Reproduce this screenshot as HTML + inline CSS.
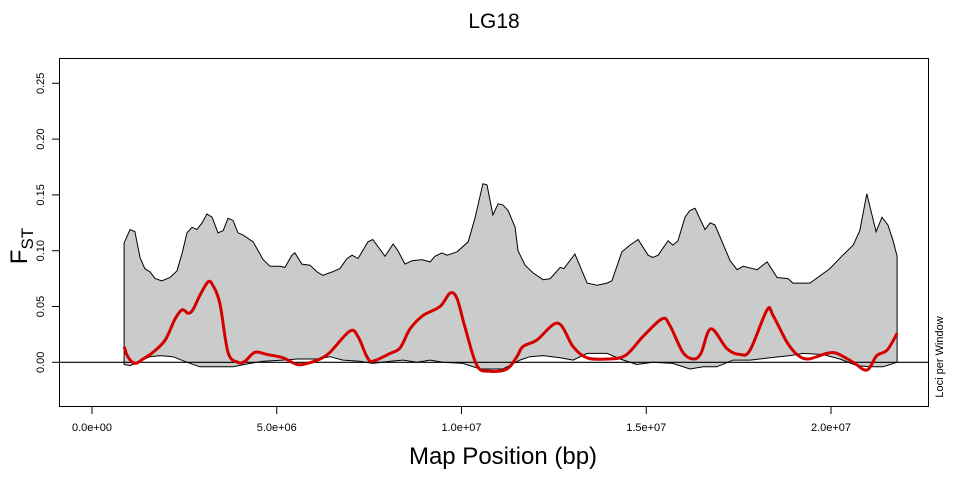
<!DOCTYPE html>
<html><head><meta charset="utf-8"><style>
body{margin:0;background:#fff;}
svg{display:block;font-family:"Liberation Sans",sans-serif;}
</style></head><body>
<svg id="chart" width="960" height="480">
<text x="494" y="28" font-size="21" text-anchor="middle">LG18</text>
<g id="plot"></g>
<rect x="59.5" y="58.5" width="869" height="348" fill="none" stroke="#000" stroke-width="1"/>
<text x="503" y="464" font-size="24" text-anchor="middle">Map Position (bp)</text>
<text transform="translate(27,246) rotate(-90)" font-size="24" text-anchor="middle">F<tspan font-size="17" dy="6">ST</tspan></text>
<text transform="translate(943,357) rotate(-90)" font-size="11" text-anchor="middle">Loci per Window</text>
</svg>
<script>
const xTicks=[0,5e6,1e7,1.5e7,2e7];
const xTickLabels=["0.0e+00","5.0e+06","1.0e+07","1.5e+07","2.0e+07"];
const yTicks=[0,0.05,0.10,0.15,0.20,0.25];
const yTickLabels=["0.00","0.05","0.10","0.15","0.20","0.25"];
const upperPos=[0.87,1.03,1.16,1.30,1.43,1.57,1.71,1.89,2.11,2.30,2.44,2.57,2.71,2.84,2.98,3.11,3.25,3.41,3.55,3.68,3.82,3.95,4.09,4.36,4.63,4.82,5.09,5.22,5.41,5.49,5.68,5.90,6.09,6.25,6.50,6.71,6.90,7.04,7.20,7.47,7.60,7.93,8.15,8.28,8.47,8.66,8.93,9.15,9.28,9.47,9.61,9.88,10.18,10.37,10.58,10.69,10.85,10.99,11.12,11.26,11.45,11.53,11.72,11.94,12.21,12.40,12.67,12.77,13.07,13.40,13.67,13.94,14.07,14.34,14.56,14.78,15.05,15.18,15.32,15.59,15.72,15.86,16.05,16.18,16.32,16.59,16.73,16.86,17.27,17.46,17.62,18.00,18.27,18.54,18.84,18.97,19.43,19.97,20.32,20.60,20.78,20.97,21.22,21.38,21.54,21.68,21.79];
const upperFst=[.107,.119,.117,.094,.084,.081,.075,.073,.076,.082,.098,.116,.121,.119,.125,.133,.130,.116,.118,.129,.127,.116,.114,.108,.092,.086,.086,.085,.096,.098,.088,.087,.081,.078,.081,.084,.093,.096,.093,.108,.110,.095,.106,.100,.088,.091,.092,.090,.095,.098,.096,.099,.108,.130,.160,.159,.132,.142,.141,.136,.121,.100,.087,.080,.074,.075,.085,.084,.097,.071,.069,.071,.073,.099,.105,.110,.096,.094,.096,.109,.105,.109,.130,.136,.138,.119,.125,.123,.091,.083,.086,.083,.090,.076,.075,.071,.071,.084,.096,.105,.118,.151,.117,.130,.123,.109,.095];
const lowerPos=[0.87,1.03,1.30,1.57,1.84,2.19,2.57,2.92,3.27,3.55,3.82,4.28,4.63,5.17,5.55,6.09,6.44,6.79,7.25,7.60,8.07,8.42,8.80,9.15,9.50,10.04,10.50,11.12,11.58,11.85,12.21,12.67,13.02,13.40,13.94,14.29,14.75,15.18,15.72,16.18,16.54,16.91,17.35,17.81,18.35,18.89,19.24,19.78,20.24,20.70,21.06,21.41,21.79];
const lowerFst=[-.002,-.003,.001,.005,.006,.005,.000,-.004,-.004,-.004,-.004,-.001,.001,.002,.003,.003,.005,.002,.001,-.001,.001,.002,.000,.002,.000,-.001,-.006,-.006,.002,.005,.006,.004,.002,.008,.008,.003,-.002,.000,-.001,-.006,-.004,-.004,.002,.002,.004,.006,.008,.007,.003,-.003,-.004,-.004,.000];
const meanPos=[0.87,0.97,1.16,1.38,1.65,1.98,2.25,2.44,2.60,2.73,2.92,3.14,3.27,3.46,3.68,3.95,4.14,4.41,4.74,5.17,5.55,5.82,6.17,6.44,6.98,7.20,7.44,7.60,8.07,8.34,8.61,8.96,9.42,9.69,9.88,10.09,10.42,10.77,11.23,11.50,11.66,12.04,12.61,13.02,13.40,13.94,14.43,14.91,15.43,15.64,15.99,16.27,16.48,16.75,17.19,17.54,17.81,18.27,18.43,18.81,19.08,19.38,19.89,20.16,20.60,20.97,21.24,21.52,21.79];
const meanFst=[.014,.005,-.001,.003,.009,.020,.039,.047,.044,.047,.060,.072,.069,.053,.009,.000,.001,.009,.007,.004,-.002,-.001,.003,.009,.028,.023,.005,.001,.008,.013,.030,.042,.050,.062,.057,.032,-.003,-.008,-.006,.005,.014,.020,.035,.014,.004,.003,.006,.023,.039,.033,.009,.003,.008,.030,.012,.007,.011,.047,.042,.018,.007,.003,.008,.008,.000,-.007,.006,.011,.026];

const NS="http://www.w3.org/2000/svg";
const svg=document.getElementById('chart');
const plot=document.getElementById('plot');
function xs(bp){return 92+bp/1e7*369.5;}
function ys(v){return 362.3-v*1116;}
function mk(tag,attrs,parent){const e=document.createElementNS(NS,tag);for(const k in attrs)e.setAttribute(k,attrs[k]);(parent||svg).appendChild(e);return e;}
function smooth(pts){
  let s="M"+pts[0][0].toFixed(1)+","+pts[0][1].toFixed(1);
  for(let i=0;i<pts.length-1;i++){
    const p0=pts[Math.max(0,i-1)],p1=pts[i],p2=pts[i+1],p3=pts[Math.min(pts.length-1,i+2)];
    const c1x=p1[0]+(p2[0]-p0[0])/6,c1y=p1[1]+(p2[1]-p0[1])/6;
    const c2x=p2[0]-(p3[0]-p1[0])/6,c2y=p2[1]-(p3[1]-p1[1])/6;
    s+="C"+c1x.toFixed(1)+","+c1y.toFixed(1)+" "+c2x.toFixed(1)+","+c2y.toFixed(1)+" "+p2[0].toFixed(1)+","+p2[1].toFixed(1);
  }
  return s;
}

let d="";
upperPos.forEach((p,i)=>{d+=(i?"L":"M")+xs(p*1e6).toFixed(1)+","+ys(upperFst[i]).toFixed(1);});
for(let i=lowerPos.length-1;i>=0;i--){d+="L"+xs(lowerPos[i]*1e6).toFixed(1)+","+ys(lowerFst[i]).toFixed(1);}
d+="Z";
const band=mk('path',{d:d,fill:"#cacccb",stroke:"#000","stroke-width":"1"},plot);



const zero=mk('line',{x1:59.5,x2:928.5,y1:ys(0),y2:ys(0),stroke:"#000","stroke-width":"1.2"},plot);



const mpts=meanPos.map((p,i)=>[xs(p*1e6),ys(meanFst[i])]);
const mean=mk('path',{d:smooth(mpts),fill:"none",stroke:"#d40000","stroke-width":"3","stroke-linejoin":"round"},plot);



xTicks.forEach((t,i)=>{
  const x=xs(t);
  const tk=mk('line',{x1:x,x2:x,y1:406.5,y2:414,stroke:"#000"});
  
  
  const lb=mk('text',{x:x,y:431,"font-size":"11","text-anchor":"middle"});
  lb.textContent=xTickLabels[i];
  
  
});
yTicks.forEach((t,i)=>{
  const y=ys(t);
  const tk=mk('line',{x1:52,x2:59.5,y1:y,y2:y,stroke:"#000"});
  
  
  const lb=mk('text',{transform:"translate(44,"+y+") rotate(-90)","font-size":"11","text-anchor":"middle"});
  lb.textContent=yTickLabels[i];
  
  
});
</script>
</body></html>
